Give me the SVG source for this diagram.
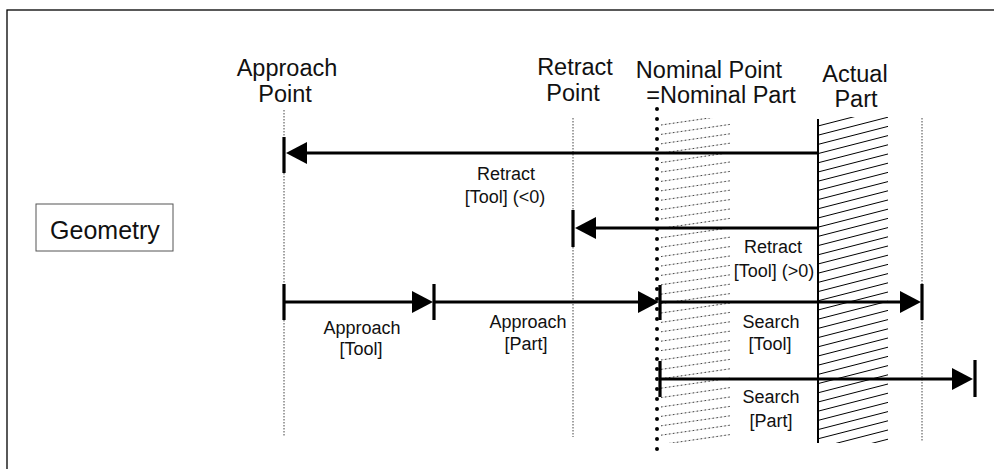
<svg xmlns="http://www.w3.org/2000/svg" width="994" height="469" viewBox="0 0 994 469">
<style>
text{font-family:"Liberation Sans",Arial,sans-serif;fill:#111;text-anchor:middle}
.h{font-size:23.5px}
.s{font-size:18px}
.g{font-size:25px}
.guide{stroke:#444;stroke-width:1;stroke-dasharray:1.5 1.5;fill:none}
.conn{stroke:#000;stroke-width:3;fill:none}
.bar{stroke:#000;stroke-width:3.2;fill:none}
</style>
<defs>
<marker id="ah" markerUnits="userSpaceOnUse" markerWidth="22" markerHeight="24" refX="0" refY="11" orient="auto">
<path d="M0,0 L21,11 L0,22 Z" fill="#000"/>
</marker>
<clipPath id="clipNom"><rect x="661" y="118" width="69" height="325"/></clipPath>
<clipPath id="clipAct"><rect x="819" y="117" width="69" height="326"/></clipPath>
</defs>

<g id="frame">
<rect x="7" y="10" width="1000" height="480" fill="none" stroke="#000" stroke-width="1.3"/>
</g>

<g id="geometry">
<rect x="36" y="204" width="137" height="47" fill="#fff" stroke="#555" stroke-width="1"/>
<text class="g" x="105" y="239">Geometry</text>
</g>

<g id="approach-point">
<line class="guide" x1="284" y1="110" x2="284" y2="437"/>
<text class="h" x="287" y="76">Approach</text>
<text class="h" x="285" y="102">Point</text>
</g>

<g id="retract-point">
<line class="guide" x1="573" y1="118" x2="573" y2="437"/>
<text class="h" x="575" y="75">Retract</text>
<text class="h" x="573" y="101">Point</text>
</g>

<g id="nominal-part">
<g clip-path="url(#clipNom)" fill="none">
<path stroke="#d0d0d0" stroke-width="0.7" d="M661,125l69,-10m-69,19.4l69,-10m-69,19.4l69,-10m-69,19.4l69,-10m-69,19.4l69,-10m-69,19.4l69,-10m-69,19.4l69,-10m-69,19.4l69,-10m-69,19.4l69,-10m-69,19.4l69,-10m-69,19.4l69,-10m-69,19.4l69,-10m-69,19.4l69,-10m-69,19.4l69,-10m-69,19.4l69,-10m-69,19.4l69,-10m-69,19.4l69,-10m-69,19.4l69,-10m-69,19.4l69,-10m-69,19.4l69,-10m-69,19.4l69,-10m-69,19.4l69,-10m-69,19.4l69,-10m-69,19.4l69,-10m-69,19.4l69,-10m-69,19.4l69,-10m-69,19.4l69,-10m-69,19.4l69,-10m-69,19.4l69,-10m-69,19.4l69,-10m-69,19.4l69,-10m-69,19.4l69,-10m-69,19.4l69,-10m-69,19.4l69,-10m-69,19.4l69,-10m-69,19.4l69,-10"/>
<path stroke="#333" stroke-width="0.9" stroke-dasharray="1.5 2.5" d="M661,125l69,-10m-69,19.4l69,-10m-69,19.4l69,-10m-69,19.4l69,-10m-69,19.4l69,-10m-69,19.4l69,-10m-69,19.4l69,-10m-69,19.4l69,-10m-69,19.4l69,-10m-69,19.4l69,-10m-69,19.4l69,-10m-69,19.4l69,-10m-69,19.4l69,-10m-69,19.4l69,-10m-69,19.4l69,-10m-69,19.4l69,-10m-69,19.4l69,-10m-69,19.4l69,-10m-69,19.4l69,-10m-69,19.4l69,-10m-69,19.4l69,-10m-69,19.4l69,-10m-69,19.4l69,-10m-69,19.4l69,-10m-69,19.4l69,-10m-69,19.4l69,-10m-69,19.4l69,-10m-69,19.4l69,-10m-69,19.4l69,-10m-69,19.4l69,-10m-69,19.4l69,-10m-69,19.4l69,-10m-69,19.4l69,-10m-69,19.4l69,-10m-69,19.4l69,-10m-69,19.4l69,-10"/>
</g>
<line x1="657" y1="109" x2="657" y2="456" stroke="#000" stroke-width="4" stroke-linecap="round" stroke-dasharray="0 10"/>
<text class="h" x="709" y="78">Nominal Point</text>
<text class="h" x="721" y="103">=Nominal Part</text>
</g>

<g id="actual-part">
<g clip-path="url(#clipAct)" fill="none">
<path stroke="#000" stroke-width="1" d="M818,126l70,-18m-70,27.2l70,-18m-70,27.2l70,-18m-70,27.2l70,-18m-70,27.2l70,-18m-70,27.2l70,-18m-70,27.2l70,-18m-70,27.2l70,-18m-70,27.2l70,-18m-70,27.2l70,-18m-70,27.2l70,-18m-70,27.2l70,-18m-70,27.2l70,-18m-70,27.2l70,-18m-70,27.2l70,-18m-70,27.2l70,-18m-70,27.2l70,-18m-70,27.2l70,-18m-70,27.2l70,-18m-70,27.2l70,-18m-70,27.2l70,-18m-70,27.2l70,-18m-70,27.2l70,-18m-70,27.2l70,-18m-70,27.2l70,-18m-70,27.2l70,-18m-70,27.2l70,-18m-70,27.2l70,-18m-70,27.2l70,-18m-70,27.2l70,-18m-70,27.2l70,-18m-70,27.2l70,-18m-70,27.2l70,-18m-70,27.2l70,-18m-70,27.2l70,-18m-70,27.2l70,-18m-70,27.2l70,-18"/>
</g>
<line x1="818" y1="119" x2="818" y2="443" stroke="#000" stroke-width="2"/>
<text class="h" x="855" y="82">Actual</text>
<text class="h" x="856" y="107">Part</text>
</g>

<g id="search-limit">
<line class="guide" x1="922" y1="118" x2="922" y2="441"/>
</g>

<g id="connectors">
<g id="retract-tool-neg">
<line class="bar" x1="284" y1="137" x2="284" y2="173"/>
<line class="conn" x1="818" y1="153" x2="307" y2="153" marker-end="url(#ah)"/>
<text class="s" x="506" y="180">Retract</text>
<text class="s" x="505" y="203">[Tool] (&lt;0)</text>
</g>
<g id="retract-tool-pos">
<line class="bar" x1="573" y1="210" x2="573" y2="247"/>
<line class="conn" x1="818" y1="228" x2="596" y2="228" marker-end="url(#ah)"/>
<text class="s" x="773" y="253">Retract</text>
<text class="s" x="774" y="277">[Tool] (&gt;0)</text>
</g>
<g id="approach-tool">
<line class="bar" x1="284" y1="284" x2="284" y2="320"/>
<line class="conn" x1="284" y1="302" x2="412" y2="302" marker-end="url(#ah)"/>
<line class="bar" x1="434" y1="284" x2="434" y2="320"/>
<text class="s" x="362" y="334">Approach</text>
<text class="s" x="361" y="355">[Tool]</text>
</g>
<g id="approach-part">
<line class="conn" x1="434" y1="302" x2="638" y2="302" marker-end="url(#ah)"/>
<line class="bar" x1="660" y1="285" x2="660" y2="320"/>
<text class="s" x="528" y="328">Approach</text>
<text class="s" x="526" y="350">[Part]</text>
</g>
<g id="search-tool">
<line class="conn" x1="660" y1="302" x2="900" y2="302" marker-end="url(#ah)"/>
<line class="bar" x1="922" y1="284" x2="922" y2="320"/>
<text class="s" x="771" y="328">Search</text>
<text class="s" x="770" y="350">[Tool]</text>
</g>
<g id="search-part">
<line class="bar" x1="660" y1="361" x2="660" y2="397"/>
<line class="conn" x1="660" y1="379" x2="952" y2="379" marker-end="url(#ah)"/>
<line class="bar" x1="975" y1="360" x2="975" y2="397"/>
<text class="s" x="771" y="403">Search</text>
<text class="s" x="771" y="427">[Part]</text>
</g>
</g>
</svg>
